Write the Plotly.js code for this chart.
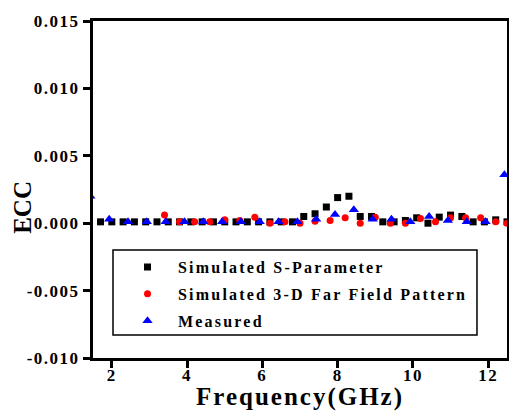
<!DOCTYPE html>
<html>
<head>
<meta charset="utf-8">
<script src="https://cdn.plot.ly/plotly-3.0.1.min.js"></script>
<style>
  html, body { margin: 0; padding: 0; background: #fff; }
  #chart { width: 509px; height: 411px; }
  .legendtext { letter-spacing: 2.2px; }
  .xtick text, .ytick text { letter-spacing: 1.5px; }
  .xtitle { letter-spacing: 2px; }
</style>
</head>
<body>
<div id="chart"></div>
<script>
// Simulated S-Parameter
const sFreq = [1.7,2.0,2.3,2.6,2.9,3.2,3.5,3.8,4.1,4.4,4.7,5.0,5.3,5.6,5.9,6.2,6.5,6.8,7.1,7.4,7.7,8.0,8.3,8.6,8.9,9.2,9.5,9.8,10.1,10.4,10.7,11.0,11.3,11.6,11.9,12.2,12.5];
const sECC  = [0.0001,0.0001,0.0001,0.0001,0.0001,0.0001,0.0001,0.0001,0.0001,0.0001,0.0001,0.0001,0.0001,0.0001,0.0001,0.0001,0.0001,0.0001,0.0005,0.0007,0.0012,0.0019,0.0020,0.0005,0.0005,0.0001,0.0001,0.0002,0.0004,0.0000,0.00045,0.0006,0.0005,0.0001,0.0001,0.00025,0.0001];
// Simulated 3-D Far Field Pattern
const rFreq = [3.4,3.8,4.2,4.6,5.0,5.4,5.8,6.2,6.6,7.0,7.4,7.8,8.2,8.6,9.0,9.4,9.8,10.2,10.6,11.0,11.4,11.8,12.2,12.5];
const rECC  = [0.0006,0.0001,0.0001,0.0001,0.00025,0.0002,0.00045,0.0,0.0001,0.0,0.00015,0.0002,0.0004,0.0,0.00045,0.0,0.0,0.00035,0.0001,0.0004,0.0004,0.0004,0.0001,0.0];
// Measured
const mFreq = [1.43,1.93,2.43,2.93,3.43,3.93,4.43,4.93,5.43,5.93,6.43,6.93,7.43,7.93,8.43,8.93,9.43,9.93,10.43,10.93,11.43,11.93,12.43];
const mECC  = [0.0020,0.0003,0.0001,0.0001,0.0001,0.0001,0.0001,0.0001,0.0001,0.0001,0.0001,0.0001,0.0003,0.00065,0.0010,0.0003,0.0003,0.0001,0.0005,0.0002,0.0001,0.0001,0.0036];

const names = ['Simulated S-Parameter', 'Simulated 3-D Far Field Pattern', 'Measured'];
const xTicks = [2,4,6,8,10,12];
const yTicks = [-0.010,-0.005,0.000,0.005,0.010,0.015];
const yTickText = ['-0.010','-0.005','0.000','0.005','0.010','0.015'];

const serif = "'Liberation Serif', 'Times New Roman', serif";

const traces = [
  {x: sFreq, y: sECC, name: names[0], mode: 'markers', type: 'scatter', legendgroup: 'a',
   marker: {symbol: 'square', size: 7, color: '#000000'}},
  {x: rFreq, y: rECC, name: names[1], mode: 'markers', type: 'scatter', legendgroup: 'b',
   marker: {symbol: 'circle', size: 7, color: '#ff0000'}},
  {x: mFreq, y: mECC, name: names[2], mode: 'markers', type: 'scatter', legendgroup: 'c',
   marker: {symbol: 'triangle-up', size: 9, color: '#0000ff'}}
];

const axisCommon = {
  showgrid: false, zeroline: false, showline: true, linecolor: '#000', linewidth: 3,
  mirror: true, ticks: 'outside', ticklen: 7, tickwidth: 3, tickcolor: '#000',
  tickfont: {family: serif, size: 17, color: '#000', weight: 'bold'}
};

const layout = {
  width: 509, height: 411,
  margin: {l: 93, r: 2, t: 21, b: 53},
  paper_bgcolor: '#fff', plot_bgcolor: '#fff',
  showlegend: true,
  xaxis: Object.assign({}, axisCommon, {
    range: [1.5, 12.5], tickvals: xTicks, ticktext: xTicks.map(String),
    ticklabelstandoff: -7,
    title: {text: 'Frequency(GHz)', standoff: 5, font: {family: serif, size: 25, color: '#000', weight: 'bold'}}
  }),
  yaxis: Object.assign({}, axisCommon, {
    range: [-0.010, 0.015], tickvals: yTicks, ticktext: yTickText
  }),
  legend: {
    x: 0.058, y: 0.32, xanchor: 'left', yanchor: 'top', itemwidth: 51,
    bgcolor: 'rgba(0,0,0,0)', borderwidth: 0, traceorder: 'grouped', tracegroupgap: 3,
    font: {family: serif, size: 16, color: '#000', weight: 'bold'}
  },
  shapes: [{
    type: 'rect', xref: 'paper', yref: 'paper',
    x0: 0.0483, x1: 0.9275, y0: 0.0682, y1: 0.3205,
    line: {color: '#000', width: 1.5}, fillcolor: 'rgba(0,0,0,0)'
  }],
  annotations: [{
    text: 'ECC', xref: 'paper', yref: 'paper', x: -0.172, y: 0.448,
    xanchor: 'center', yanchor: 'middle', textangle: -90, showarrow: false,
    font: {family: serif, size: 25, color: '#000', weight: 'bold'}
  }]
};

Plotly.newPlot('chart', traces, layout, {displayModeBar: false, staticPlot: true});
</script>
</body>
</html>
